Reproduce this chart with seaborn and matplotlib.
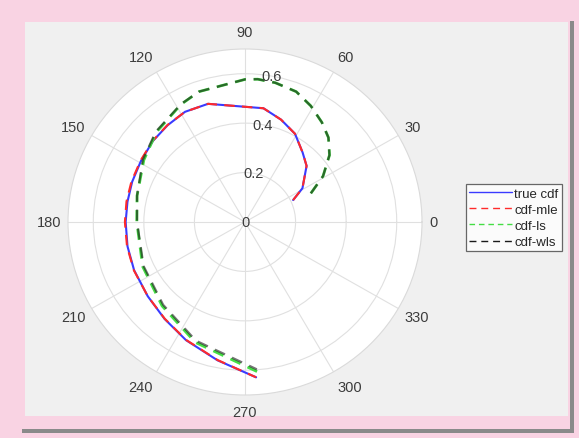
import numpy as np
import pandas as pd
import matplotlib
matplotlib.use("Agg")
import matplotlib.pyplot as plt
from matplotlib.patches import Rectangle
import seaborn as sns

# ---- data (angles in degrees, radius values) ----
theta_true = [25, 31, 43, 51, 61, 71, 81, 107, 118, 128, 138, 149, 160, 170, 180, 192, 204, 218, 231, 244, 259, 274]
r_true = [0.21, 0.265, 0.333, 0.362, 0.408, 0.438, 0.466, 0.500, 0.505, 0.497, 0.490, 0.480, 0.475, 0.472, 0.472, 0.475, 0.480, 0.488, 0.505, 0.532, 0.570, 0.630]
r_mle = [0.21, 0.265, 0.333, 0.362, 0.408, 0.438, 0.466, 0.500, 0.505, 0.498, 0.491, 0.482, 0.478, 0.476, 0.475, 0.477, 0.481, 0.488, 0.504, 0.531, 0.569, 0.630]

theta_ls = [24, 31, 39, 46, 53, 61, 69, 78, 85, 90, 109, 118, 134, 148, 166, 180, 204, 226, 248, 274.5]
r_ls = [0.285, 0.360, 0.430, 0.475, 0.505, 0.537, 0.565, 0.576, 0.580, 0.577, 0.558, 0.539, 0.505, 0.472, 0.440, 0.428, 0.443, 0.472, 0.525, 0.607]
r_wls = [0.285, 0.360, 0.430, 0.475, 0.505, 0.537, 0.565, 0.576, 0.580, 0.577, 0.558, 0.540, 0.508, 0.476, 0.440, 0.427, 0.439, 0.466, 0.518, 0.598]

series_names = ["true cdf", "cdf-mle", "cdf-ls", "cdf-wls"]
theta_ticks = list(range(0, 360, 30))
r_ticks = [0, 0.2, 0.4, 0.6]
r_tick_labels = ["0", "0.2", "0.4", "0.6"]
r_max = 0.7

sns.set_style("white")
plt.rcParams["font.family"] = ["Liberation Sans", "DejaVu Sans"]

W, H = 579, 439
fig = plt.figure(figsize=(W / 100, H / 100), dpi=100)
fig.patch.set_facecolor("#F9D3E3")

# shadow + grey panel (behind axes)
for (x0, y0, w, h, c) in [(22, 434, 552, 412, "#8a8a8a"), (18, 430, 552, 412, "#F9D3E3"),
                          (25, 417, 543, 394, "#F0F0F0")]:
    fig.patches.append(Rectangle((x0 / W, 1 - y0 / H), w / W, h / H, transform=fig.transFigure,
                                 facecolor=c, edgecolor="none", zorder=-10))

cx, cy, Rx, Ry = 245, 223, 177, 173
ax = fig.add_axes([(cx - Rx) / W, (H - cy - Ry) / H, 2 * Rx / W, 2 * Ry / H], projection="polar")
ax.set_aspect("auto")
ax.set_zorder(5)
ax.set_facecolor("white")

def df(th, r):
    return pd.DataFrame({"theta": np.deg2rad(th), "r": r})

sns.lineplot(data=df(theta_true, r_true), x="theta", y="r", ax=ax, color="#3a3aff", lw=1.5,
             sort=False, estimator=None, label=series_names[0])
sns.lineplot(data=df(theta_true, r_mle), x="theta", y="r", ax=ax, color="#ff2a2a", lw=1.5,
             sort=False, estimator=None, label=series_names[1], linestyle=(0, (5, 3.5)))
sns.lineplot(data=df(theta_ls, r_ls), x="theta", y="r", ax=ax, color="#44dd44", lw=2.0,
             sort=False, estimator=None, label=series_names[2], linestyle=(0, (4, 2.8)))
sns.lineplot(data=df(theta_ls, r_wls), x="theta", y="r", ax=ax, color="#1a1a1a", lw=1.6,
             sort=False, estimator=None, label=series_names[3], linestyle=(0, (5, 3.5)), alpha=0.6)

ax.set_ylim(0, r_max)
ax.set_rticks(r_ticks)
ax.set_yticklabels([])
ax.set_xticks(np.deg2rad(theta_ticks))
ax.set_xticklabels([])
ax.set_xlabel("")
ax.set_ylabel("")
ax.grid(True, color="#E0E0E0", lw=0.8)
ax.spines["polar"].set_color("#DADADA")
ax.spines["polar"].set_linewidth(0.8)

# theta labels placed MATLAB-style (left/right aligned outside the circle)
for t in theta_ticks:
    c, s = np.cos(np.deg2rad(t)), np.sin(np.deg2rad(t))
    ha = "left" if c > 0.2 else ("right" if c < -0.2 else "center")
    ax.annotate(str(t), xy=(np.deg2rad(t), r_max), xytext=(7 * c, 17 * s),
                textcoords="offset pixels", ha=ha, va="center", fontsize=10.5,
                color="#3c3c3c", annotation_clip=False)

for rv, lab in zip(r_ticks, r_tick_labels):
    ax.text(np.deg2rad(80), rv, lab, ha="center", va="center", fontsize=10.5, color="#3c3c3c", zorder=10)

leg = ax.legend(loc="upper left", bbox_to_anchor=(466 / W, 1 - 185 / H), bbox_transform=fig.transFigure,
                fontsize=9.5, frameon=True, fancybox=False, handlelength=3.2, handletextpad=0.2,
                borderpad=0.25, labelspacing=0.3, borderaxespad=0)
leg.get_frame().set_edgecolor("#444444")
leg.get_frame().set_linewidth(0.9)
for h in leg.get_lines():
    h.set_linewidth(1.0)
    h.set_alpha(1)

fig.savefig("out.png", dpi=100, facecolor=fig.get_facecolor())
